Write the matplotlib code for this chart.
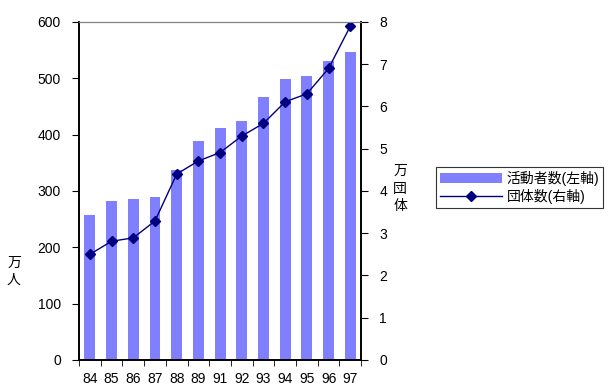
import numpy as np
from matplotlib import pyplot as plt

plt.rcParams['font.family'] = ['Liberation Sans', 'Noto Sans CJK JP', 'DejaVu Sans']

years = ['84', '85', '86', '87', '88', '89', '91', '92', '93', '94', '95', '96', '97']
activists = [258, 283, 285, 290, 338, 389, 411, 425, 467, 499, 504, 531, 547]   # 万人
groups = [2.5, 2.81, 2.89, 3.29, 4.40, 4.71, 4.91, 5.30, 5.60, 6.11, 6.30, 6.90, 7.90]  # 万団体

bar_color = '#8080FF'
line_color = '#000080'

fig = plt.figure(figsize=(6.08, 3.85), dpi=100)
ax = fig.add_axes([0.13, 0.065, 0.464, 0.878])
ax2 = ax.twinx()

x = np.arange(len(years))
bars = ax.bar(x, activists, width=0.5, color=bar_color, label='活動者数(左軸)', zorder=2)
line, = ax2.plot(x, groups, color=line_color, marker='D', markersize=5, lw=1,
                 label='団体数(右軸)')

ax.set_xlim(-0.5, len(years) - 0.5)
ax.set_ylim(0, 600)
ax2.set_ylim(0, 8)
ax.set_yticks(range(0, 601, 100))
ax2.set_yticks(range(0, 9))

# category labels centred, tick marks between categories
ax.set_xticks(x)
ax.set_xticklabels(years)
ax.set_xticks(np.arange(-0.5, len(years)), minor=True)
ax.tick_params(axis='x', which='major', length=0, pad=9, labelsize=10)
ax.tick_params(axis='x', which='minor', length=4, direction='out')
ax.tick_params(axis='y', length=5, direction='out', labelsize=10, pad=8)
ax2.tick_params(axis='y', length=5, direction='out', labelsize=10, pad=8)

for a in (ax, ax2):
    a.spines['top'].set_color('#808080')
    a.spines['top'].set_linewidth(0.8)
    for s in ('left', 'right', 'bottom'):
        a.spines[s].set_linewidth(1.2)
        a.spines[s].set_color('black')

fig.text(0.023, 0.295, '万\n人', fontsize=10, ha='center', va='center', linespacing=1.3)
fig.text(0.658, 0.51, '万\n団\n体', fontsize=10, ha='center', va='center', linespacing=1.3)

leg = fig.legend(handles=[bars, line], loc='upper left', bbox_to_anchor=(0.705, 0.585),
                 frameon=True, fancybox=False, edgecolor='black', fontsize=10,
                 handlelength=4.5, borderpad=0.3, labelspacing=0.2, handletextpad=0.3)
leg.get_frame().set_linewidth(0.8)

fig.savefig('out.png', dpi=100)
